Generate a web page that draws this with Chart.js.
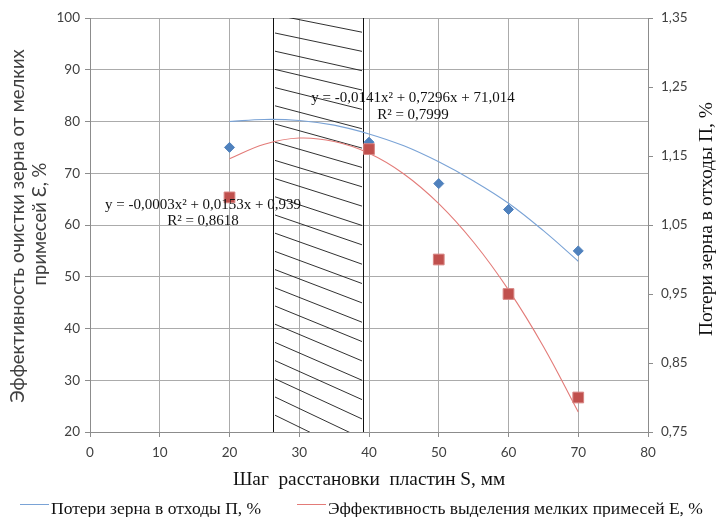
<!DOCTYPE html>
<html><head><meta charset="utf-8">
<script src="https://cdn.jsdelivr.net/npm/chart.js@4"></script>
<style>html,body{margin:0;padding:0;background:#fff}#wrap{width:716px;height:517px;position:relative}</style>
</head><body><div id="wrap"><canvas id="c"></canvas></div>
<script>
// ---- data ----
const xValues = [20, 40, 50, 60, 70];
const lossValues = [75, 76, 68, 63, 55];            // blue diamonds, left axis
const effValues = [1.09, 1.16, 1.00, 0.95, 0.80];   // red squares, right axis
const trendX = [20, 25, 30, 35, 40, 45, 50, 55, 60, 65, 70];
const lossTrend = [80.0, 80.4, 80.2, 79.3, 77.6, 75.3, 72.2, 68.5, 64.2, 58.9, 53.0];
const effTrend = [1.146, 1.167, 1.176, 1.171, 1.154, 1.124, 1.081, 1.025, 0.956, 0.874, 0.779];
const xTicks = [0, 10, 20, 30, 40, 50, 60, 70, 80];
const leftTicks = [20, 30, 40, 50, 60, 70, 80, 90, 100];
const rightTicks = [0.75, 0.85, 0.95, 1.05, 1.15, 1.25, 1.35];
const hatchRange = [26.3, 39.1];
const seriesLabels = ['Потери зерна в отходы П, %', 'Эффективность выделения мелких примесей Е, %'];
const xTitle = 'Шаг  расстановки  пластин S, мм';
const leftTitle = ['Эффективность очистки зерна от мелких', 'примесей Ɛ, %'];
const rightTitle = 'Потери зерна в отходы П, %';
const eqLoss = ['y = -0,0141x² + 0,7296x + 71,014', 'R² = 0,7999'];
const eqEff = ['y = -0,0003x² + 0,0153x + 0,939', 'R² = 0,8618'];

const BLUE = '#4f81bd', RED = '#c0504d';
const BLUE_T = '#7aa3d6', RED_T = '#e37b78';
const GRID = '#ababab', AXIS = '#8c8c8c';
const TICKFONT = {family: 'Lato', size: 13.5};
const SERIF = '"Liberation Serif", "Times New Roman", serif';

const pts = (xs, ys) => xs.map((x, i) => ({x, y: ys[i]}));
const fix = (arr) => (s) => { s.ticks = arr.map(v => ({value: v})); };

const decor = {
  id: 'decor',
  beforeDatasetsDraw(chart) {
    const {ctx, chartArea: a, scales: {x}} = chart;
    const xl = Math.round(x.getPixelForValue(hatchRange[0])) + 0.5;
    const xr = Math.round(x.getPixelForValue(hatchRange[1])) + 0.5;
    ctx.save();
    ctx.strokeStyle = '#111'; ctx.lineWidth = 1;
    ctx.beginPath();
    ctx.moveTo(xl, a.top); ctx.lineTo(xl, a.bottom);
    ctx.moveTo(xr, a.top); ctx.lineTo(xr, a.bottom);
    ctx.stroke();
    ctx.beginPath(); ctx.rect(xl, a.top, xr - xl, a.bottom - a.top); ctx.clip();
    const x0 = xl + 1.5, x1 = xr - 1.5, w = x1 - x0, H = a.bottom - a.top;
    ctx.lineWidth = 0.9; ctx.strokeStyle = '#1a1a1a';
    ctx.beginPath();
    for (let y = a.top + 15 - 18.2 * 2; y < a.bottom + 10; y += 18.2) {
      const t = Math.max(0, (y - a.top) / H);
      const slope = 0.2 + 0.3 * t;
      ctx.moveTo(x0, y); ctx.lineTo(x1, y + slope * w);
    }
    ctx.stroke();
    ctx.restore();
  },
  afterDraw(chart) {
    const {ctx, chartArea: a} = chart;
    ctx.save();
    // equations
    ctx.fillStyle = '#111';
    ctx.font = '15px ' + SERIF;
    ctx.textAlign = 'center'; ctx.textBaseline = 'alphabetic';
    ctx.fillText(eqLoss[0], 413, 102); ctx.fillText(eqLoss[1], 413, 118.5);
    ctx.fillText(eqEff[0], 203, 208.5); ctx.fillText(eqEff[1], 203, 224.5);
    // x title
    ctx.font = '19.3px ' + SERIF;
    ctx.fillText(xTitle, (a.left + a.right) / 2, 485);
    // right title
    ctx.font = '19.5px ' + SERIF;
    ctx.save(); ctx.translate(712, 219); ctx.rotate(-Math.PI / 2);
    ctx.fillText(rightTitle, 0, 0); ctx.restore();
    // left title
    ctx.fillStyle = '#404040';
    ctx.font = '18.5px Lato';
    ctx.save(); ctx.translate(24, 226); ctx.rotate(-Math.PI / 2);
    ctx.fillText(leftTitle[0], 0, 0); ctx.restore();
    ctx.save(); ctx.translate(46, 224); ctx.rotate(-Math.PI / 2);
    ctx.fillText(leftTitle[1], 0, 0); ctx.restore();
    // legend
    ctx.textAlign = 'left';
    ctx.fillStyle = '#111';
    ctx.font = '17.5px ' + SERIF;
    ctx.lineWidth = 1;
    ctx.strokeStyle = BLUE_T; ctx.beginPath(); ctx.moveTo(20, 504.5); ctx.lineTo(49, 504.5); ctx.stroke();
    ctx.fillText(seriesLabels[0], 51, 514);
    ctx.strokeStyle = RED_T; ctx.beginPath(); ctx.moveTo(297, 504.5); ctx.lineTo(326, 504.5); ctx.stroke();
    ctx.fillText(seriesLabels[1], 328, 514);
    ctx.restore();
  }
};

new Chart(document.getElementById('c'), {
  type: 'scatter',
  data: {
    datasets: [
      {label: seriesLabels[1] + ' (точки)', data: pts(xValues, effValues), yAxisID: 'y1', order: 0,
       pointStyle: 'rect', pointRadius: 7.6, backgroundColor: RED, borderColor: '#d88684', borderWidth: 1},
      {label: seriesLabels[0] + ' (точки)', data: pts(xValues, lossValues), yAxisID: 'y', order: 1,
       pointStyle: 'rectRot', pointRadius: 5, backgroundColor: BLUE, borderColor: BLUE, borderWidth: 1},
      {label: seriesLabels[0], data: pts(trendX, lossTrend), yAxisID: 'y', order: 2, showLine: true,
       pointRadius: 0, borderColor: BLUE_T, borderWidth: 1.1, tension: 0.4, fill: false},
      {label: seriesLabels[1], data: pts(trendX, effTrend), yAxisID: 'y1', order: 3, showLine: true,
       pointRadius: 0, borderColor: RED_T, borderWidth: 1.1, tension: 0.4, fill: false}
    ]
  },
  options: {
    responsive: true, maintainAspectRatio: false, animation: false,
    layout: {padding: {left: 0, right: 0, top: 18, bottom: 0}},
    plugins: {legend: {display: false}, tooltip: {enabled: false}},
    scales: {
      x: {type: 'linear', position: 'bottom', min: 0, max: 80,
          afterBuildTicks: fix(xTicks), afterFit: s => { s.height = 85; },
          grid: {color: GRID, tickLength: 5, tickColor: AXIS},
          border: {color: AXIS},
          ticks: {font: TICKFONT, color: '#404040', padding: 8, maxRotation: 0}},
      y: {type: 'linear', position: 'left', min: 20, max: 100,
          afterBuildTicks: fix(leftTicks), afterFit: s => { s.width = 90; },
          grid: {color: GRID, tickLength: 5, tickColor: AXIS},
          border: {color: AXIS},
          ticks: {font: TICKFONT, color: '#404040', padding: 5}},
      y1: {type: 'linear', position: 'right', min: 0.75, max: 1.35,
          afterBuildTicks: fix(rightTicks), afterFit: s => { s.width = 68; },
          grid: {drawOnChartArea: false, tickLength: 5, tickColor: AXIS},
          border: {color: AXIS},
          ticks: {font: TICKFONT, color: '#404040', padding: 8,
                  callback: v => v.toFixed(2).replace('.', ',')}}
    }
  },
  plugins: [decor]
});
</script></body></html>
